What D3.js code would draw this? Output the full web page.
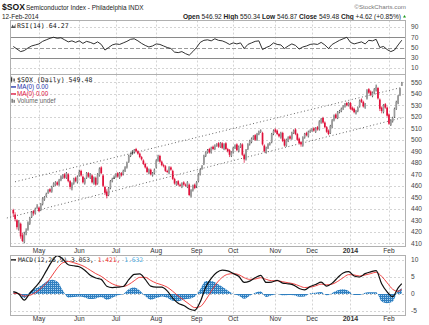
<!DOCTYPE html>
<html><head><meta charset="utf-8">
<script src="https://cdn.jsdelivr.net/npm/d3@7"></script>
<style>body{margin:0;background:#fff;}svg{display:block;font-family:"Liberation Sans",Arial,sans-serif;}</style>
</head><body><svg id="c" width="429" height="325"></svg>
<script>
// ---------- DATA ----------
const symbol = "$SOX";
const titleText = "Semiconductor Index - Philadelphia INDX";
const dateText = "12-Feb-2014";
const quoteLabels = ["Open","High","Low","Close","Chg"];
const quoteValues = ["546.92","550.34","546.87","549.48","+4.62 (+0.85%)"];
const holidays = ["2013-05-27","2013-07-04","2013-09-02","2013-11-28","2013-12-25","2014-01-01","2014-01-20"];
const monthLabels = ["May","Jun","Jul","Aug","Sep","Oct","Nov","Dec","2014","Feb"];
const priceTicks = [410,420,430,440,450,460,470,480,490,500,510,520,530,540,550];
const rsiTicks = [10,30,50,70,90];
const macdTicks = [-5,0,5,10];

const opens = [439,435,430,423,427,417,411,419,422,427,433,438,436,441,441,439,444,448,451,454,457,455,460,461,463,461,465,467,470,467,470,464,458,462,467,463,469,473,468,462,467,471,467,469,462,467,462,469,476,469,459,455,452,458,464,467,468,471,467,471,470,473,476,481,486,489,489,492,490,488,485,482,479,476,471,474,469,471,476,482,486,481,478,477,473,471,476,473,466,461,464,461,459,463,461,459,461,451,456,461,460,464,470,475,479,486,489,492,489,494,492,495,497,494,497,492,497,492,491,486,489,493,496,490,494,496,487,483,492,496,498,501,504,500,505,507,506,495,489,493,496,498,505,509,508,505,502,506,500,495,499,503,501,506,509,505,501,498,495,502,506,503,507,508,510,507,511,509,515,519,515,511,508,506,511,517,522,519,524,525,527,529,532,530,532,528,527,523,525,529,535,533,528,536,544,542,538,541,543,545,535,528,524,531,528,522,513,516,520,527,532,539,546.92];
const highs = [440,437,431,430,428,419,420,423,429,433,438,439,441,444,442,445,450,451,454,457,458,460,463,464,464,466,469,470,471,472,471,465,463,467,468,469,474,474,469,467,472,472,471,470,468,468,471,476,477,470,460,457,459,465,467,469,471,472,472,472,474,477,481,487,489,491,492,493,491,489,486,483,480,477,475,475,472,475,483,487,487,482,479,478,474,477,477,474,467,464,465,462,463,464,462,464,462,457,461,462,464,471,475,478,487,490,492,493,494,495,496,497,498,498,498,497,498,493,492,490,494,496,497,495,497,497,488,492,497,500,502,504,505,506,508,509,507,496,494,497,498,506,509,510,509,506,507,507,501,501,503,504,507,509,510,506,502,499,503,506,507,508,509,510,511,511,512,517,519,520,516,512,509,513,518,522,523,525,526,528,530,532,533,533,533,529,528,526,529,535,536,534,532,544,545,543,542,545,548,546,536,529,531,532,529,523,518,520,528,534,539,545,550.34];
const lows = [433,429,422,421,414,411,410,417,421,426,432,434,435,440,437,438,443,447,450,453,454,454,459,460,460,460,464,466,466,466,463,457,456,461,463,462,468,468,462,461,466,467,466,462,461,460,461,468,470,459,452,449,451,457,463,466,467,467,466,468,469,472,475,480,485,487,488,489,487,484,482,478,475,471,470,469,468,470,475,481,480,477,476,472,471,470,473,465,461,460,460,459,458,460,459,458,451,450,455,457,458,463,469,474,478,485,488,488,488,491,491,494,493,493,492,491,491,489,485,485,488,492,490,489,493,486,480,482,491,495,497,500,499,499,504,506,495,489,488,492,495,497,504,506,504,502,501,498,494,494,498,500,500,505,504,499,496,494,494,501,503,502,506,507,507,506,508,508,514,514,510,506,504,505,510,516,518,518,523,524,526,528,529,529,526,525,523,522,524,528,532,528,527,535,540,538,537,540,542,535,525,523,523,527,520,513,512,515,519,526,531,538,546.87];
const closes = [436,431,424,428,416,412,418,421,428,432,437,436,440,442,438,444,449,450,453,456,455,459,462,463,461,465,468,469,467,471,464,459,462,466,464,468,472,469,463,466,471,468,470,463,467,461,470,475,471,460,454,451,458,464,466,467,470,468,471,469,473,476,480,486,488,489,491,490,488,485,483,479,476,472,474,470,471,474,482,485,481,478,477,473,472,476,474,466,462,463,461,460,462,461,460,463,452,456,460,458,463,470,474,477,486,489,491,489,493,492,495,496,494,497,493,496,492,490,487,489,493,495,491,494,496,487,483,491,496,499,501,503,500,505,507,508,496,490,493,496,497,505,508,507,505,503,506,499,495,500,502,501,506,508,505,500,497,496,502,505,504,507,508,509,508,510,509,516,518,515,511,507,505,512,517,521,519,524,525,527,529,531,530,532,527,526,524,525,528,534,533,529,531,543,541,539,541,544,546,536,527,525,530,528,521,514,517,519,527,533,538,544.86,549.48];

// RSI(14), read every 2nd trading day
const rsiValues = [52,47,42,44,49,53,55,57,62,65,68,70,68,69,65,61,63,60,63,58,62,60,57,61,56,45,50,55,57,56,59,62,66,67,63,58,54,51,53,57,56,53,50,48,41,40,42,38,35,42,50,60,64,65,63,67,64,63,60,56,59,57,59,48,56,59,62,63,46,50,53,59,56,55,48,53,57,54,47,51,53,56,57,56,60,55,48,56,60,64,67,70,60,57,59,61,57,64,63,66,50,52,46,42,45,55,64.27];
// MACD(12,26,9), read every 3rd trading day (+ last day)
const macdValues = [0.7,0.0,-1.8,0.2,2.0,4.0,6.8,9.5,11.3,10.3,8.6,8.3,8.0,7.0,5.5,4.7,4.3,2.3,1.9,2.0,2.2,4.2,5.8,5.9,4.3,2.3,2.0,2.0,0.9,-1.2,-2.7,-3.4,-4.4,-4.8,-2.3,2.0,4.6,6.3,7.0,6.8,6.0,5.2,3.4,3.8,4.8,5.5,3.4,3.5,4.0,3.2,3.0,2.6,1.6,1.2,2.2,2.8,3.5,2.3,3.2,4.8,6.2,6.6,5.3,5.0,6.0,6.5,6.9,3.0,0.6,-0.8,1.8,3.053];
const signalValues = [0.2,0.1,-0.6,-0.4,0.4,1.6,3.2,5.3,7.6,9.2,9.6,9.2,8.7,8.0,7.0,6.0,5.2,4.0,3.0,2.4,2.2,2.8,3.9,4.9,4.9,4.0,3.2,2.7,2.0,0.8,-0.6,-1.8,-3.0,-4.0,-3.7,-1.8,0.8,3.2,4.9,5.8,6.0,5.7,4.8,4.3,4.4,4.8,4.3,3.9,3.9,3.6,3.3,3.0,2.4,1.9,2.0,2.4,2.9,2.7,2.9,3.7,4.8,5.7,5.6,5.3,5.6,6.0,6.4,5.2,3.3,1.4,0.8,1.421];
const macdLegend = ["MACD(12,26,9) 3.053,","1.421,","1.632"];
// trend channel (dotted) anchors: [trading-day index, price]
const channelUpper = [[1,463.5],[211.7,545.5]];
const channelLower = [[-3.5,432],[211.7,519]];

// ---------- DATES ----------
const hol = new Set(holidays);
const dates = [];
for (let t = Date.UTC(2013,3,11); t <= Date.UTC(2014,1,12); t += 86400000) {
  const d = new Date(t), wd = d.getUTCDay(), s = d.toISOString().slice(0,10);
  if (wd > 0 && wd < 6 && !hol.has(s)) dates.push(s);
}
const n = closes.length;
const monthStarts = [];
for (let i = 1; i < dates.length; i++) if (dates[i].slice(5,7) !== dates[i-1].slice(5,7)) monthStarts.push(i);
const rsiIdx = rsiValues.map((v,k) => Math.min(k*2, n-1));
const macdIdx = macdValues.map((v,k) => k === macdValues.length-1 ? n-1 : k*3);

// ---------- LAYOUT ----------
const svg = d3.select("#c");
const L = 10, R = 405;
const P = {rsi:[20.5,74.5], price:[74.5,246.5], macd:[255.5,315.5]};
const x = d3.scaleLinear().domain([0, n-1]).range([13.3, 401.8]);
const yP = d3.scaleLinear().domain([410,550]).range([243.3, 82.3]);
const yR = d3.scaleLinear().domain([0,100]).range([73.1, 21.9]);
const yM = d3.scaleLinear().domain([-5,10]).range([311, 260]);
const axisFont = "Liberation Sans";
const grid = "#d4d4d4";

function panelFrame(p){
  svg.append("rect").attr("x",L+0.5).attr("y",p[0]).attr("width",R-L).attr("height",p[1]-p[0])
    .attr("fill","none").attr("stroke","#b0b0b0").attr("stroke-width",1);
}
function vGrid(p){
  svg.append("g").selectAll("line").data(monthStarts).join("line")
    .attr("x1",i=>Math.round(x(i))+0.5).attr("x2",i=>Math.round(x(i))+0.5)
    .attr("y1",p[0]).attr("y2",p[1]).attr("stroke",grid).attr("stroke-dasharray","2,2");
}
function hGrid(vals, y, p, style){
  svg.append("g").selectAll("line").data(vals).join("line")
    .attr("x1",L).attr("x2",R).attr("y1",v=>Math.round(y(v))+0.5).attr("y2",v=>Math.round(y(v))+0.5)
    .attr("stroke",v=>style(v).c).attr("stroke-dasharray",v=>style(v).d);
}
function rightAxis(vals, y, fmt){
  svg.append("g").selectAll("text").data(vals).join("text")
    .attr("x",411).attr("y",v=>y(v)+2.3).text(fmt||(v=>v))
    .attr("font-family",axisFont).attr("font-size",6.6).attr("fill","#444");
}
function monthAxis(yy){
  svg.append("g").selectAll("text").data(monthStarts).join("text")
    .attr("x",i=>x(i)).attr("y",yy).attr("text-anchor","middle")
    .text((i,k)=>monthLabels[k]).attr("font-family",axisFont)
    .attr("font-size",(i,k)=>monthLabels[k]==="2014"?7:6.6)
    .attr("font-weight",(i,k)=>monthLabels[k]==="2014"?"bold":"normal").attr("fill","#333");
}

// ---------- HEADER ----------
svg.append("text").attr("x",2).attr("y",10).text(symbol).attr("font-weight","bold").attr("font-size",8.6).attr("fill","#111");
svg.append("text").attr("x",26).attr("y",10).text(titleText).attr("font-size",6.4).attr("fill","#222");
svg.append("text").attr("x",2).attr("y",18.5).text(dateText).attr("font-size",6.4).attr("fill","#222");
svg.append("text").attr("x",406).attr("y",8.5).attr("text-anchor","end").text("©StockCharts.com").attr("font-size",6.2).attr("fill","#777");
const q = svg.append("text").attr("x",401).attr("y",18.5).attr("text-anchor","end").attr("font-size",6.6).attr("fill","#222");
quoteLabels.forEach((lab,k)=>{
  q.append("tspan").text(lab+" ").attr("font-weight","bold");
  q.append("tspan").text(quoteValues[k]+(k<quoteLabels.length-1?"  ":""));
});
svg.append("path").attr("d","M403,17.5 L406,17.5 L404.5,15 Z").attr("fill","#1a9a1a");

// ---------- RSI PANEL ----------
vGrid(P.rsi);
hGrid(rsiTicks, yR, P.rsi, v => v===30||v===70 ? {c:"#8a8a8a",d:null} : v===50 ? {c:"#9a9a9a",d:"4,2"} : {c:grid,d:"2,2"});
panelFrame(P.rsi);
svg.append("path").datum(rsiValues).attr("fill","none").attr("stroke","#1a1a1a").attr("stroke-width",0.9)
  .attr("d", d3.line().x((v,k)=>x(rsiIdx[k])).y(v=>yR(v)));
rightAxis(rsiTicks, yR);
svg.append("path").attr("d","M11,28 L12.5,24.5 L14,27 L15.5,23.5 L15.5,28 Z").attr("fill","#555");
svg.append("text").attr("x",17).attr("y",28.3).text("RSI(14) 64.27").attr("font-family","DejaVu Sans Mono").attr("font-size",6.6).attr("fill","#222");

// ---------- PRICE PANEL ----------
vGrid(P.price);
hGrid(priceTicks, yP, P.price, v => ({c:grid,d:"2,2"}));
panelFrame(P.price);
rightAxis(priceTicks, yP);
monthAxis(252.5);

const dotted = d3.line().x(d=>x(d[0])).y(d=>yP(d[1]));
[channelUpper, channelLower].forEach(c=>{
  svg.append("path").attr("d",dotted(c)).attr("fill","none").attr("stroke","#444")
    .attr("stroke-width",0.9).attr("stroke-dasharray","0.9,2.6");
});

const red = "#e0103a", blk = "#111";
const candles = svg.append("g");
closes.forEach((c,i)=>{
  const o = opens[i], h = Math.max(highs[i],o,c), l = Math.min(lows[i],o,c);
  const up = i===0 ? c>=o : c>=closes[i-1];
  const col = up ? blk : red;
  const hollow = c > o;
  const xx = x(i);
  candles.append("line").attr("x1",xx).attr("x2",xx).attr("y1",yP(h)).attr("y2",yP(l))
    .attr("stroke",col).attr("stroke-width",0.7);
  const top = yP(Math.max(o,c)), bot = yP(Math.min(o,c));
  candles.append("rect").attr("x",xx-0.85).attr("width",1.7)
    .attr("y",top).attr("height",Math.max(0.8,bot-top))
    .attr("fill", hollow ? (up ? "#9a9a9a" : "#f27a95") : col);
});

// legend
const lg = svg.append("g").attr("font-size",6.3);
svg.append("rect").attr("x",11).attr("y",77.5).attr("width",1.2).attr("height",4).attr("fill","#333");
svg.append("rect").attr("x",13.5).attr("y",78.5).attr("width",1.2).attr("height",3).attr("fill","#333");
svg.append("line").attr("x1",11.6).attr("x2",11.6).attr("y1",76.5).attr("y2",82.5).attr("stroke","#333").attr("stroke-width",0.5);
lg.append("text").attr("x",17).attr("y",81.6).text(symbol+" (Daily) 549.48").attr("font-family","DejaVu Sans Mono").attr("font-size",6.6).attr("fill","#222");
lg.append("rect").attr("x",11).attr("y",86.3).attr("width",5).attr("height",1.3).attr("fill","#1c2fa8");
lg.append("text").attr("x",17).attr("y",88.8).text("MA(0) 0.00").attr("fill","#1c2fa8");
lg.append("rect").attr("x",11).attr("y",93.3).attr("width",5).attr("height",1.3).attr("fill","#e0103a");
lg.append("text").attr("x",17).attr("y",95.8).text("MA(0) 0.00").attr("fill","#e0103a");
lg.append("rect").attr("x",11.5).attr("y",98.8).attr("width",1.3).attr("height",4).attr("fill","#666");
lg.append("rect").attr("x",13.5).attr("y",99.8).attr("width",1.3).attr("height",3).attr("fill","#666");
lg.append("text").attr("x",17).attr("y",102.8).text("Volume undef").attr("fill","#666");

// ---------- MACD PANEL ----------
vGrid(P.macd);
hGrid(macdTicks, yM, P.macd, v => ({c: v===0 ? "#c4c4c4" : grid, d:"2,2"}));
monthAxis(321);
rightAxis([-5,0,5,10], yM);

const defs = svg.append("defs");
const pat = defs.append("pattern").attr("id","hp").attr("patternUnits","userSpaceOnUse").attr("width",2).attr("height",2);
pat.append("rect").attr("width",2).attr("height",2).attr("fill","#2f7fc0");
pat.append("rect").attr("x",1).attr("y",1).attr("width",1).attr("height",1).attr("fill","#a9d0ee");
defs.append("clipPath").attr("id","mc").append("rect").attr("x",L).attr("y",P.macd[0]).attr("width",R-L).attr("height",P.macd[1]-P.macd[0]);

const mg = svg.append("g").attr("clip-path","url(#mc)");
const hist = macdValues.map((v,k)=>v-signalValues[k]);
mg.append("path").datum(hist).attr("fill","url(#hp)")
  .attr("d", d3.area().x((v,k)=>x(macdIdx[k])).y0(yM(0)).y1(v=>yM(v)).curve(d3.curveMonotoneX));
mg.append("path").datum(signalValues).attr("fill","none").attr("stroke","#ee3030").attr("stroke-width",0.9)
  .attr("d", d3.line().x((v,k)=>x(macdIdx[k])).y(v=>yM(v)).curve(d3.curveMonotoneX));
mg.append("path").datum(macdValues).attr("fill","none").attr("stroke","#111").attr("stroke-width",1.2)
  .attr("d", d3.line().x((v,k)=>x(macdIdx[k])).y(v=>yM(v)).curve(d3.curveMonotoneX));
panelFrame(P.macd);

svg.append("rect").attr("x",11).attr("y",259.2).attr("width",5).attr("height",1.3).attr("fill","#111");
const mt = svg.append("text").attr("x",18).attr("y",262).attr("font-family","DejaVu Sans Mono").attr("font-size",6.3);
mt.append("tspan").text(macdLegend[0]+" ").attr("fill","#222");
mt.append("tspan").text(macdLegend[1]+" ").attr("fill","#ee3030");
mt.append("tspan").text(macdLegend[2]).attr("fill","#4aa8e0");
</script></body></html>
